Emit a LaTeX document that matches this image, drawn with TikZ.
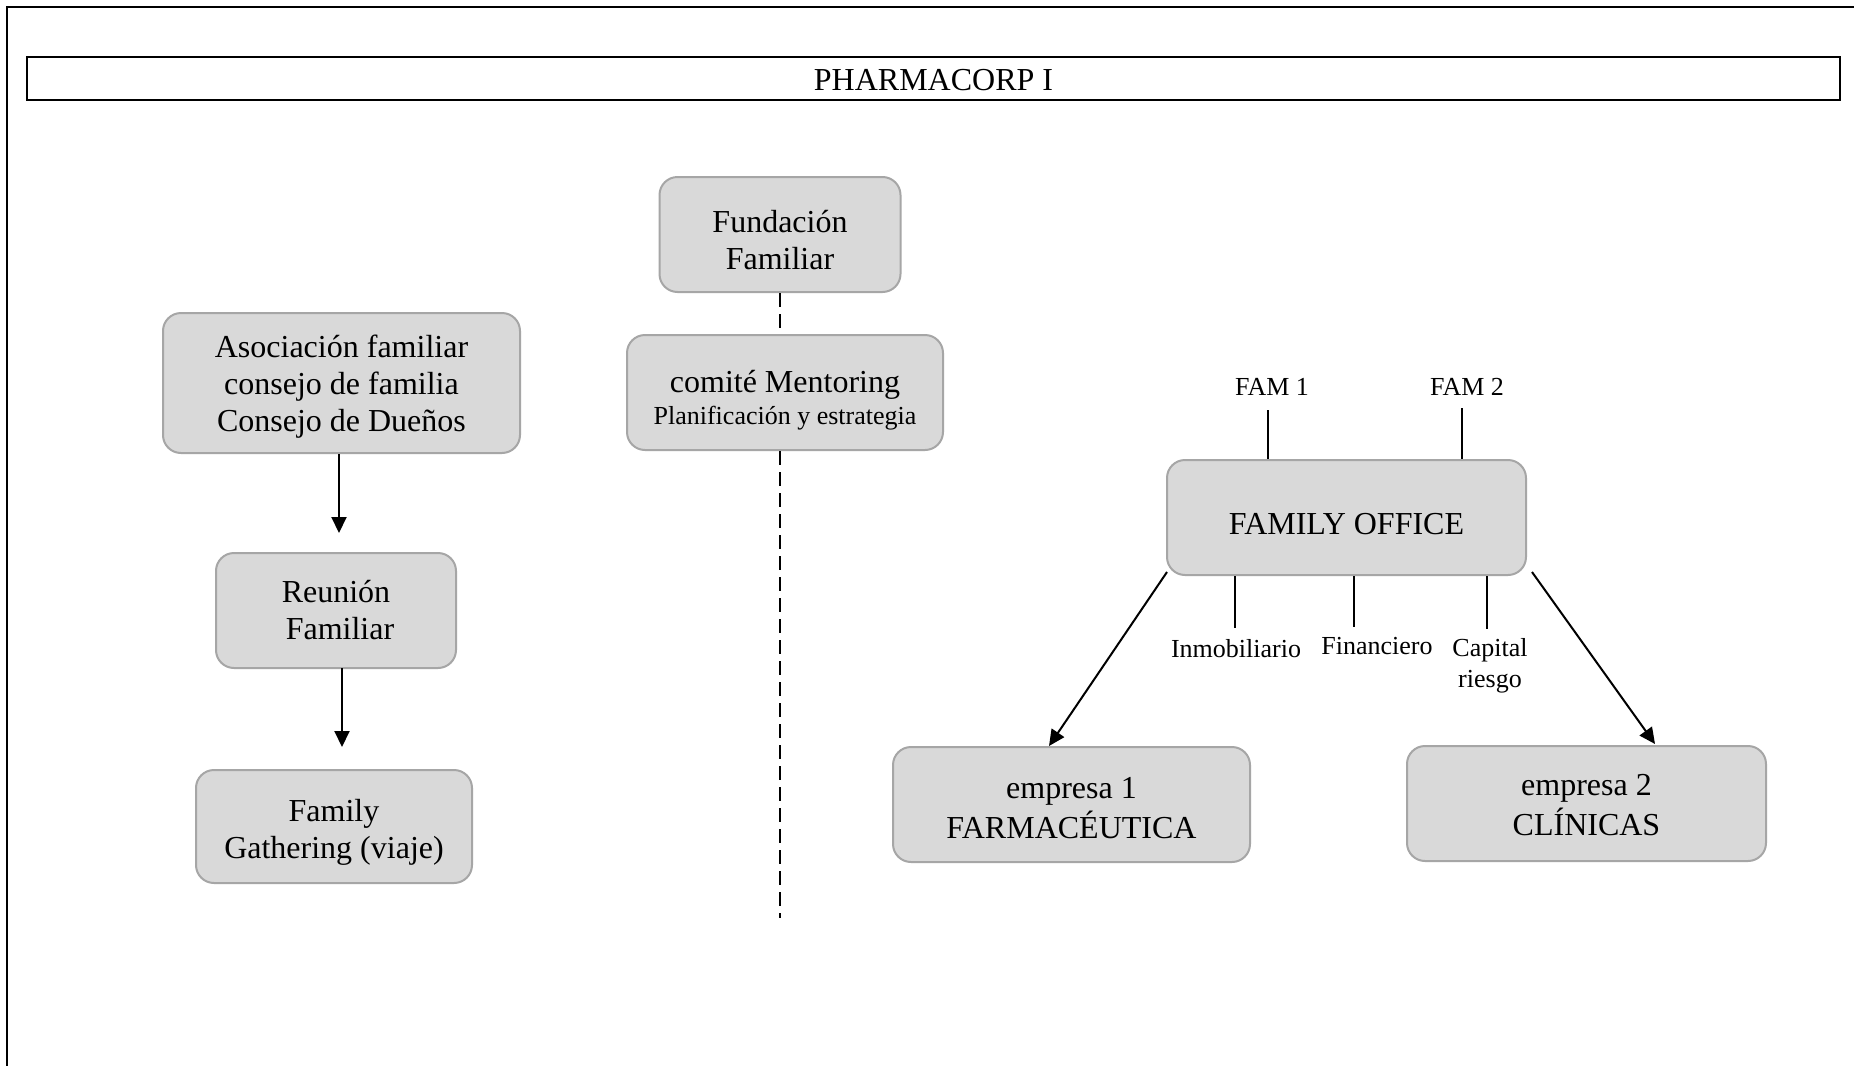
\documentclass[tikz,border=0pt]{standalone}
\usepackage{fontspec}
\setmainfont{Liberation Serif}
\usetikzlibrary{arrows.meta}
\definecolor{boxfill}{HTML}{D9D9D9}
\definecolor{boxline}{HTML}{A6A6A6}
% centred block of lines, lowered by #1 without changing the node size
\newcommand{\cardtext}[2]{\raisebox{-#1}[\height][\depth]{\begin{tabular}{@{}c@{}}#2\end{tabular}}}
\begin{document}
\begin{tikzpicture}[x=0.5pt,y=-0.5pt,
  card/.style={draw=boxline, fill=boxfill, line width=1pt, rounded corners=9pt,
    inner sep=0pt, font=\fontsize{16}{18.5}\selectfont},
  lbl/.style={font=\fontsize{13}{15.5}\selectfont, align=center, inner sep=0pt},
  tick/.style={line width=0.8pt},
  arr/.style={line width=1pt, -{Triangle[length=8pt,width=7.5pt]}},
  sepline/.style={line width=1pt, dash pattern=on 7pt off 3.5pt}
]
\useasboundingbox (0,0) rectangle (1854,1066);
\fill[white] (0,0) rectangle (1854,1066);

% page frame (top and left edges)
\draw[line width=1pt] (7,1066) -- (7,7) -- (1854,7);

% heading
\node[draw, line width=1pt, minimum width=906.5pt, minimum height=21.5pt,
  inner sep=0pt, font=\fontsize{16}{18}\selectfont] (title) at (933.5,78.5)
  {\cardtext{2.3pt}{PHARMACORP I}};

% family governance column
\node[card, minimum width=178.5pt, minimum height=70pt] (asoc) at (341.5,383)
  {\cardtext{1.8pt}{Asociación familiar\\consejo de familia\\Consejo de Dueños}};
\node[card, minimum width=120pt, minimum height=57.5pt] (reun) at (336,610.5)
  {\cardtext{1.7pt}{Reunión\\\ Familiar}};
\node[card, minimum width=138pt, minimum height=56.5pt] (gath) at (334,826.5)
  {\cardtext{3pt}{Family\\Gathering (viaje)}};

\draw[arr, shorten >=10pt] (asoc.south -| 339,0) -- (339,553);
\coordinate (r2) at (342,668);
\coordinate (g2) at (342,770);
\draw[arr, shorten >=11.5pt] (r2) -- (g2);

% foundation and mentoring
\node[card, minimum width=120.5pt, minimum height=57.5pt] (fund) at (780,234.5)
  {\cardtext{4.5pt}{Fundación\\Familiar}};
\node[card, minimum width=158pt, minimum height=57.5pt] (comite) at (785,392.5)
  {\cardtext{4.3pt}{comité Mentoring\\[-2.5pt]{\fontsize{13}{15}\selectfont Planificación y estrategia}}};
\coordinate (sepend) at (780,918);
\draw[sepline] (fund.south) -- (fund.south |- comite.north);
\draw[sepline] (fund.south |- comite.south) -- (sepend);

% family office and companies
\node[card, minimum width=179.5pt, minimum height=57.5pt] (fo) at (1346.5,517.5)
  {\cardtext{4.7pt}{FAMILY OFFICE}};
\node[card, minimum width=178.5pt, minimum height=57.5pt] (e1) at (1071.5,804.5)
  {\cardtext{3.2pt}{empresa 1\\[0.5pt]FARMACÉUTICA}};
\node[card, minimum width=179.5pt, minimum height=57.5pt] (e2) at (1586.5,803.5)
  {\cardtext{2.4pt}{empresa 2\\[0.5pt]CLÍNICAS}};

\node[lbl, anchor=base] (fam1) at (1272,395) {FAM 1};
\node[lbl, anchor=base] (fam2) at (1467,395) {FAM 2};
\node[lbl, anchor=base] (inmo) at (1236,657) {Inmobiliario};
\node[lbl, anchor=base] (fina) at (1377,654) {Financiero};
\node[lbl, anchor=north] (capi) at (1490,638) {Capital\\riesgo};

\coordinate (t1) at (1268,410);
\coordinate (t2) at (1462,408);
\coordinate (b1) at (1235,628);
\coordinate (b2) at (1354,627);
\coordinate (b3) at (1487,629);
\draw[tick] (t1) -- (t1 |- fo.north);
\draw[tick] (t2) -- (t2 |- fo.north);
\draw[tick] (b1 |- fo.south) -- (b1);
\draw[tick] (b2 |- fo.south) -- (b2);
\draw[tick] (b3 |- fo.south) -- (b3);

\coordinate (s1) at (1167,572);
\coordinate (s2) at (1532,572);
\coordinate (e1in) at (1049,746);
\coordinate (e2in) at (1655,744);
\draw[arr] (s1) -- (e1in);
\draw[arr] (s2) -- (e2in);
\end{tikzpicture}
\end{document}
